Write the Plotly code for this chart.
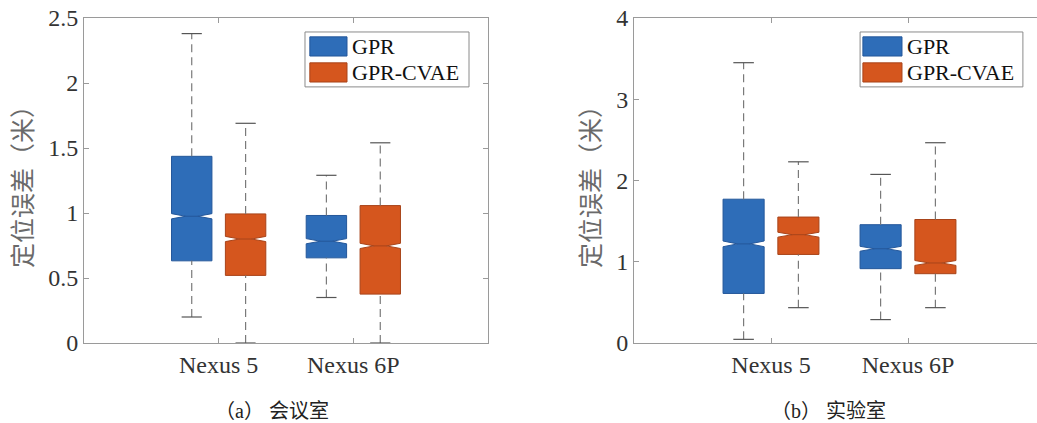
import plotly.graph_objects as go

# ---------------- data ----------------
categories = ["Nexus 5", "Nexus 6P"]
series_names = ["GPR", "GPR-CVAE"]
captions = ["（a） 会议室", "（b） 实验室"]
y_title = "定位误差（米）"

# panel (a) 会议室
a_gpr_lower = [0.20, 0.35]
a_gpr_q1 = [0.632, 0.655]
a_gpr_median = [0.975, 0.783]
a_gpr_q3 = [1.436, 0.981]
a_gpr_upper = [2.38, 1.29]
a_gpr_notch = [0.02, 0.02]

a_cvae_lower = [0.0, 0.0]
a_cvae_q1 = [0.52, 0.376]
a_cvae_median = [0.80, 0.747]
a_cvae_q3 = [0.993, 1.057]
a_cvae_upper = [1.69, 1.54]
a_cvae_notch = [0.02, 0.02]

# panel (b) 实验室
b_gpr_lower = [0.045, 0.288]
b_gpr_q1 = [0.61, 0.915]
b_gpr_median = [1.22, 1.16]
b_gpr_q3 = [1.77, 1.456]
b_gpr_upper = [3.45, 2.075]
b_gpr_notch = [0.035, 0.03]

b_cvae_lower = [0.435, 0.435]
b_cvae_q1 = [1.09, 0.853]
b_cvae_median = [1.333, 0.985]
b_cvae_q3 = [1.55, 1.52]
b_cvae_upper = [2.23, 2.465]
b_cvae_notch = [0.03, 0.03]

a_yticks = [0, 0.5, 1, 1.5, 2, 2.5]
b_yticks = [0, 1, 2, 3, 4]

# ---------------- style ----------------
fills = ["#2E6DB8", "#D5561E"]
edges = ["#24579a", "#a8441a"]
offsets = [-0.2, 0.2]
box_w = 0.3
cap_half = 0.075
serif = "Liberation Serif"
cjk = "Noto Sans CJK SC"

fig = go.Figure()

panels = [
    dict(xa="x", ya="y", data=[
        (a_gpr_lower, a_gpr_q1, a_gpr_median, a_gpr_q3, a_gpr_upper, a_gpr_notch),
        (a_cvae_lower, a_cvae_q1, a_cvae_median, a_cvae_q3, a_cvae_upper, a_cvae_notch)]),
    dict(xa="x2", ya="y2", data=[
        (b_gpr_lower, b_gpr_q1, b_gpr_median, b_gpr_q3, b_gpr_upper, b_gpr_notch),
        (b_cvae_lower, b_cvae_q1, b_cvae_median, b_cvae_q3, b_cvae_upper, b_cvae_notch)]),
]

for p in panels:
    for si, (lo, q1, med, q3, up, nt) in enumerate(p["data"]):
        xs = [i + 1 + offsets[si] for i in range(len(categories))]
        fig.add_trace(go.Box(
            x=xs, q1=q1, median=med, q3=q3, lowerfence=q1, upperfence=q3,
            notched=True, notchspan=nt, notchwidth=0.35, width=box_w,
            whiskerwidth=0, fillcolor=fills[si],
            line=dict(color=edges[si], width=1),
            name=series_names[si], showlegend=False,
            xaxis=p["xa"], yaxis=p["ya"], boxpoints=False,
        ))
        # dashed whiskers
        wx, wy = [], []
        for x, a, b, c, d in zip(xs, lo, q1, q3, up):
            wx += [x, x, None, x, x, None]
            wy += [a, b, None, c, d, None]
        fig.add_trace(go.Scatter(
            x=wx, y=wy, mode="lines",
            line=dict(color="#7a7a7a", width=1.2, dash="8px,5px"),
            showlegend=False, hoverinfo="skip",
            xaxis=p["xa"], yaxis=p["ya"]))
        # caps
        cx, cy = [], []
        for x, a, d in zip(xs, lo, up):
            cx += [x - cap_half, x + cap_half, None, x - cap_half, x + cap_half, None]
            cy += [a, a, None, d, d, None]
        fig.add_trace(go.Scatter(
            x=cx, y=cy, mode="lines",
            line=dict(color="#555555", width=1.2),
            showlegend=False, hoverinfo="skip",
            xaxis=p["xa"], yaxis=p["ya"]))

axis_common = dict(
    showline=True, linecolor="#9a9a9a", linewidth=1,
    ticks="inside", ticklen=5, tickcolor="#9a9a9a",
    showgrid=False, zeroline=False,
)

W, H = 1037, 423
T, B = 18, 80
PH = H - T - B
fig.update_layout(
    width=W, height=H,
    margin=dict(l=0, r=0, t=T, b=B),
    paper_bgcolor="white", plot_bgcolor="white",
    showlegend=False,
    xaxis=dict(domain=[84 / W, 488 / W], range=[0, 3], mirror="ticks",
               tickvals=[1, 2], ticktext=categories,
               tickfont=dict(family=serif, size=24, color="#333333"),
               anchor="y", **axis_common),
    yaxis=dict(domain=[0, 1], range=[0, 2.5], mirror="ticks",
               tickvals=a_yticks, ticktext=[f"{v:g}" for v in a_yticks],
               tickfont=dict(family=serif, size=24, color="#333333"),
               title=dict(text=y_title, standoff=8,
                          font=dict(family=cjk, size=25, color="#6a6a6a")),
               anchor="x", **axis_common),
    xaxis2=dict(domain=[634 / W, 1.0], range=[0, (W - 634) / 137.0], mirror="ticks",
                tickvals=[1, 2], ticktext=categories,
                tickfont=dict(family=serif, size=24, color="#333333"),
                anchor="y2", **axis_common),
    yaxis2=dict(domain=[0, 1], range=[0, 4], mirror=False,
                tickvals=b_yticks, ticktext=[f"{v:g}" for v in b_yticks],
                tickfont=dict(family=serif, size=24, color="#333333"),
                title=dict(text=y_title, standoff=8,
                           font=dict(family=cjk, size=25, color="#6a6a6a")),
                anchor="x2", **axis_common),
)

# manual legends (large color patches like MATLAB)
legend_specs = [
    ("x domain", "y domain", 0.547, 0.953, 0.559, 0.651, 0.658),
    ("x2 domain", "y2 domain", 0.561, 0.965, 0.568, 0.665, 0.672),
]
row_tops = [0.942, 0.862]
row_h = 0.059
for xr, yr, bx0, bx1, rx0, rx1, tx in legend_specs:
    fig.add_shape(type="rect", xref=xr, yref=yr, x0=bx0, x1=bx1, y0=0.788, y1=0.957,
                  line=dict(color="#8a8a8a", width=1), fillcolor="white", layer="above")
    for si, name in enumerate(series_names):
        fig.add_shape(type="rect", xref=xr, yref=yr, x0=rx0, x1=rx1,
                      y0=row_tops[si] - row_h, y1=row_tops[si],
                      line=dict(color=edges[si], width=1), fillcolor=fills[si], layer="above")
        fig.add_annotation(xref=xr, yref=yr, x=tx, y=row_tops[si] - row_h / 2,
                           text=name, showarrow=False, xanchor="left", yanchor="middle",
                           font=dict(family=serif, size=22, color="#111111"))

# captions (below the plot area)
for cx, txt in zip([272 / W, 828 / W], captions):
    fig.add_annotation(xref="paper", yref="paper", x=cx, y=(H - B - 411) / PH,
                       text=txt, showarrow=False, xanchor="center", yanchor="middle",
                       font=dict(family="Liberation Serif, Noto Sans CJK SC", size=20,
                                 color="#222222"))

fig.write_html("out.html")
